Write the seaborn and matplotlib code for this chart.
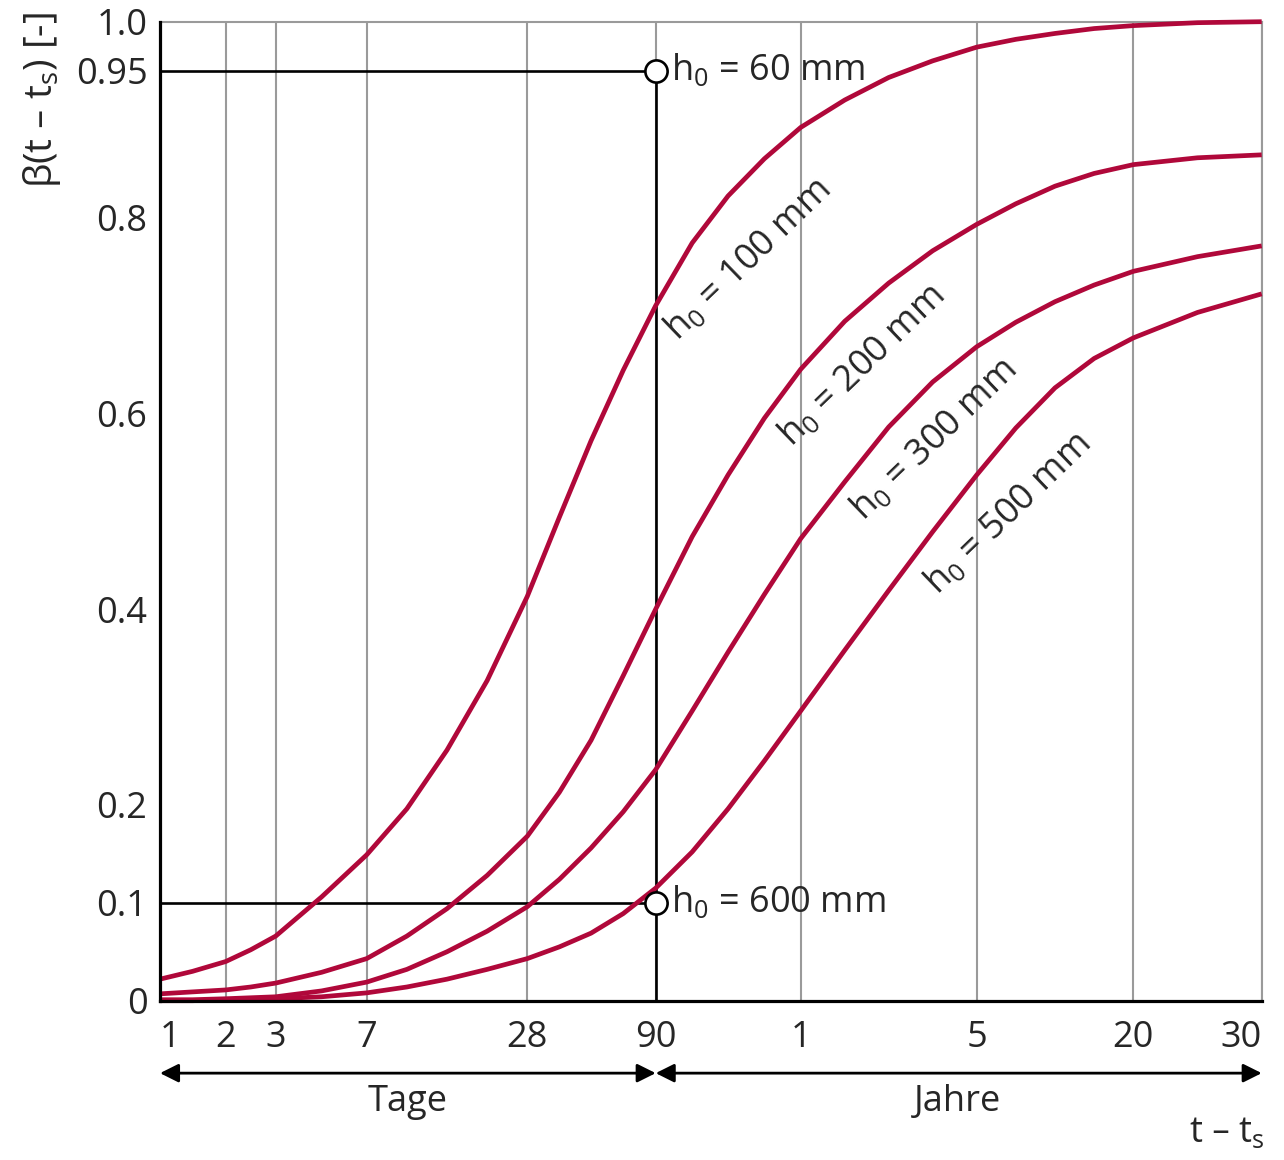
import numpy as np
import pandas as pd
import matplotlib
matplotlib.use("Agg")
import matplotlib.pyplot as plt
import seaborn as sns

# ---------------- data ----------------
T_DAYS = [1, 1.41, 2, 2.45, 3, 4.6, 7, 9.9, 14, 19.8, 28, 37.5, 50, 67, 90, 128, 181, 257,
          365, 546, 816, 1220, 1825, 2580, 3650, 5160, 7300, 8940, 10950]
H0_MM = ["100", "200", "300", "500"]
BETA_H100 = [0.022, 0.030, 0.040, 0.052, 0.066, 0.106, 0.149, 0.196, 0.256, 0.327, 0.413,
             0.494, 0.572, 0.644, 0.710, 0.774, 0.822, 0.860, 0.892, 0.920, 0.943, 0.960,
             0.974, 0.982, 0.988, 0.993, 0.996, 0.999, 1.000]
BETA_H200 = [0.007, 0.009, 0.011, 0.014, 0.018, 0.029, 0.043, 0.066, 0.094, 0.128, 0.168,
             0.213, 0.266, 0.332, 0.400, 0.474, 0.537, 0.595, 0.645, 0.694, 0.733, 0.766,
             0.793, 0.814, 0.832, 0.845, 0.854, 0.861, 0.864]
BETA_H300 = [0.001, 0.001, 0.002, 0.003, 0.004, 0.010, 0.019, 0.032, 0.050, 0.071, 0.096,
             0.124, 0.156, 0.193, 0.236, 0.296, 0.356, 0.415, 0.472, 0.530, 0.586, 0.632,
             0.668, 0.693, 0.714, 0.731, 0.745, 0.760, 0.771]
BETA_H500 = [0.000, 0.000, 0.001, 0.001, 0.002, 0.004, 0.008, 0.014, 0.022, 0.032, 0.043,
             0.055, 0.069, 0.089, 0.115, 0.152, 0.196, 0.245, 0.296, 0.358, 0.419, 0.479,
             0.537, 0.585, 0.626, 0.656, 0.677, 0.703, 0.722]

REF_T = 90
REF_BETA = [0.95, 0.1]
REF_H0 = ["60", "600"]

X_TICKS = [1, 2, 3, 7, 28, 90, 365, 1825, 7300, 10950]
X_TICKLABELS = ["1", "2", "3", "7", "28", "90", "1", "5", "20", "30"]
Y_TICKS = [0, 0.1, 0.2, 0.4, 0.6, 0.8, 0.95, 1.0]
Y_TICKLABELS = ["0", "0.1", "0.2", "0.4", "0.6", "0.8", "0.95", "1.0"]
Y_GRID = [0.2, 0.4, 0.6, 0.8, 1.0]

# ---------------- scale (layout of the hand-drawn time axis) ----------------
_S_LOG = np.log10(np.array(X_TICKS, float))
_S_POS = np.array([0, 65.7, 115.7, 206.7, 367.3, 495.7, 640.7, 816.7, 973.3, 1101.7]) / 1101.7
_s0 = (_S_POS[1] - _S_POS[0]) / (_S_LOG[1] - _S_LOG[0])
_s1 = (_S_POS[-1] - _S_POS[-2]) / (_S_LOG[-1] - _S_LOG[-2])


def _fwd(x):
    x = np.asarray(x, float)
    lx = np.log10(np.clip(x, 1e-6, None))
    y = np.interp(lx, _S_LOG, _S_POS)
    y = np.where(lx < _S_LOG[0], _S_POS[0] + (lx - _S_LOG[0]) * _s0, y)
    y = np.where(lx > _S_LOG[-1], _S_POS[-1] + (lx - _S_LOG[-1]) * _s1, y)
    return y


def _inv(p):
    p = np.asarray(p, float)
    lx = np.interp(p, _S_POS, _S_LOG)
    lx = np.where(p < _S_POS[0], _S_LOG[0] + (p - _S_POS[0]) / _s0, lx)
    lx = np.where(p > _S_POS[-1], _S_LOG[-1] + (p - _S_POS[-1]) / _s1, lx)
    return 10 ** lx


# ---------------- style ----------------
sns.set_style("white")
plt.rcParams["font.family"] = ["Open Sans", "DejaVu Sans"]
plt.rcParams["mathtext.default"] = "regular"

RED = "#B0083A"
GRID = "#9a9a9a"
FS = 26

df = pd.DataFrame({
    "t": T_DAYS * 4,
    "beta": BETA_H100 + BETA_H200 + BETA_H300 + BETA_H500,
    "h0": sum([[h] * len(T_DAYS) for h in H0_MM], []),
})

fig = plt.figure(figsize=(12.84, 11.6), dpi=100)
ax = fig.add_axes([160 / 1284, 1 - 1000.7 / 1160, 1101.7 / 1284, 979 / 1160])
ax.set_xscale("function", functions=(_fwd, _inv))

sns.lineplot(data=df, x="t", y="beta", hue="h0", palette=[RED] * 4,
             legend=False, linewidth=3.4, estimator=None, ax=ax, zorder=4)
for ln in ax.lines:
    ln.set_clip_on(False)
    ln.set_solid_capstyle("butt")
    ln.set_solid_joinstyle("round")

ax.set_xlim(X_TICKS[0], X_TICKS[-1])
ax.set_ylim(0, 1.0)

ax.set_xticks(X_TICKS)
ax.set_xticklabels(X_TICKLABELS, fontsize=FS)
ax.set_yticks(Y_TICKS)
ax.set_yticklabels(Y_TICKLABELS, fontsize=FS)
ax.set_yticks(Y_GRID, minor=True)
ax.tick_params(axis="both", which="both", length=0)
ax.tick_params(axis="x", pad=14)
ax.tick_params(axis="y", pad=9)
ax.set_xlabel("")
ax.set_ylabel("")

ax.grid(False)
ax.grid(True, axis="x", which="major", color=GRID, lw=1.5, zorder=1)
ax.grid(True, axis="y", which="minor", color=GRID, lw=1.5, zorder=1)
ax.set_axisbelow(True)

xl = ax.get_xticklabels()
xl[0].set_ha("left")
xl[-1].set_ha("right")

for side in ["left", "bottom"]:
    ax.spines[side].set_color("black")
    ax.spines[side].set_linewidth(2.3)
    ax.spines[side].set_zorder(5)
for side in ["top", "right"]:
    ax.spines[side].set_color(GRID)
    ax.spines[side].set_linewidth(1.5)

# reference lines and points at 90 days
for b in REF_BETA:
    ax.plot([X_TICKS[0], REF_T], [b, b], color="black", lw=1.9, zorder=3)
ax.plot([REF_T, REF_T], [0, max(REF_BETA)], color="black", lw=1.9, zorder=3)
ax.plot([REF_T] * len(REF_BETA), REF_BETA, "o", ms=16, mfc="white", mec="black",
        mew=1.9, zorder=6, clip_on=False)
for b, h in zip(REF_BETA, REF_H0):
    ax.annotate(r"h$_{0}$ = " + h + " mm", xy=(REF_T, b), xytext=(11, 0),
                textcoords="offset points", ha="left", va="center", fontsize=FS, zorder=7)

# curve labels
label_pos = [(0.534, 0.757), (0.637, 0.648), (0.703, 0.573), (0.770, 0.497)]
for (px, py), h in zip(label_pos, H0_MM):
    ax.text(px, py, r"h$_{0}$ = " + h + " mm", transform=ax.transAxes, rotation=44,
            rotation_mode="anchor", ha="center", va="center", fontsize=FS, zorder=7)

# arrows below the axis
arrow_kw = dict(arrowstyle="<|-|>", color="black", lw=2.0, mutation_scale=28,
                shrinkA=0, shrinkB=0)
ax.annotate("", xy=(REF_T, -0.074), xytext=(X_TICKS[0], -0.074),
            xycoords=("data", "axes fraction"), arrowprops=arrow_kw, annotation_clip=False)
ax.annotate("", xy=(X_TICKS[-1], -0.074), xytext=(REF_T, -0.074),
            xycoords=("data", "axes fraction"), arrowprops=arrow_kw, annotation_clip=False)
ax.text(0.225, -0.103, "Tage", transform=ax.transAxes, ha="center", va="center", fontsize=FS)
ax.text(0.724, -0.103, "Jahre", transform=ax.transAxes, ha="center", va="center", fontsize=FS)
ax.text(1.003, -0.135, r"t – t$_{s}$", transform=ax.transAxes, ha="right", va="center", fontsize=FS)

fig.text(42 / 1284, 1 - 12 / 1160, r"β(t – t$_{s}$) [-]", rotation=90, ha="center",
         va="top", fontsize=28)

fig.savefig("out.png", dpi=100, facecolor="white")
